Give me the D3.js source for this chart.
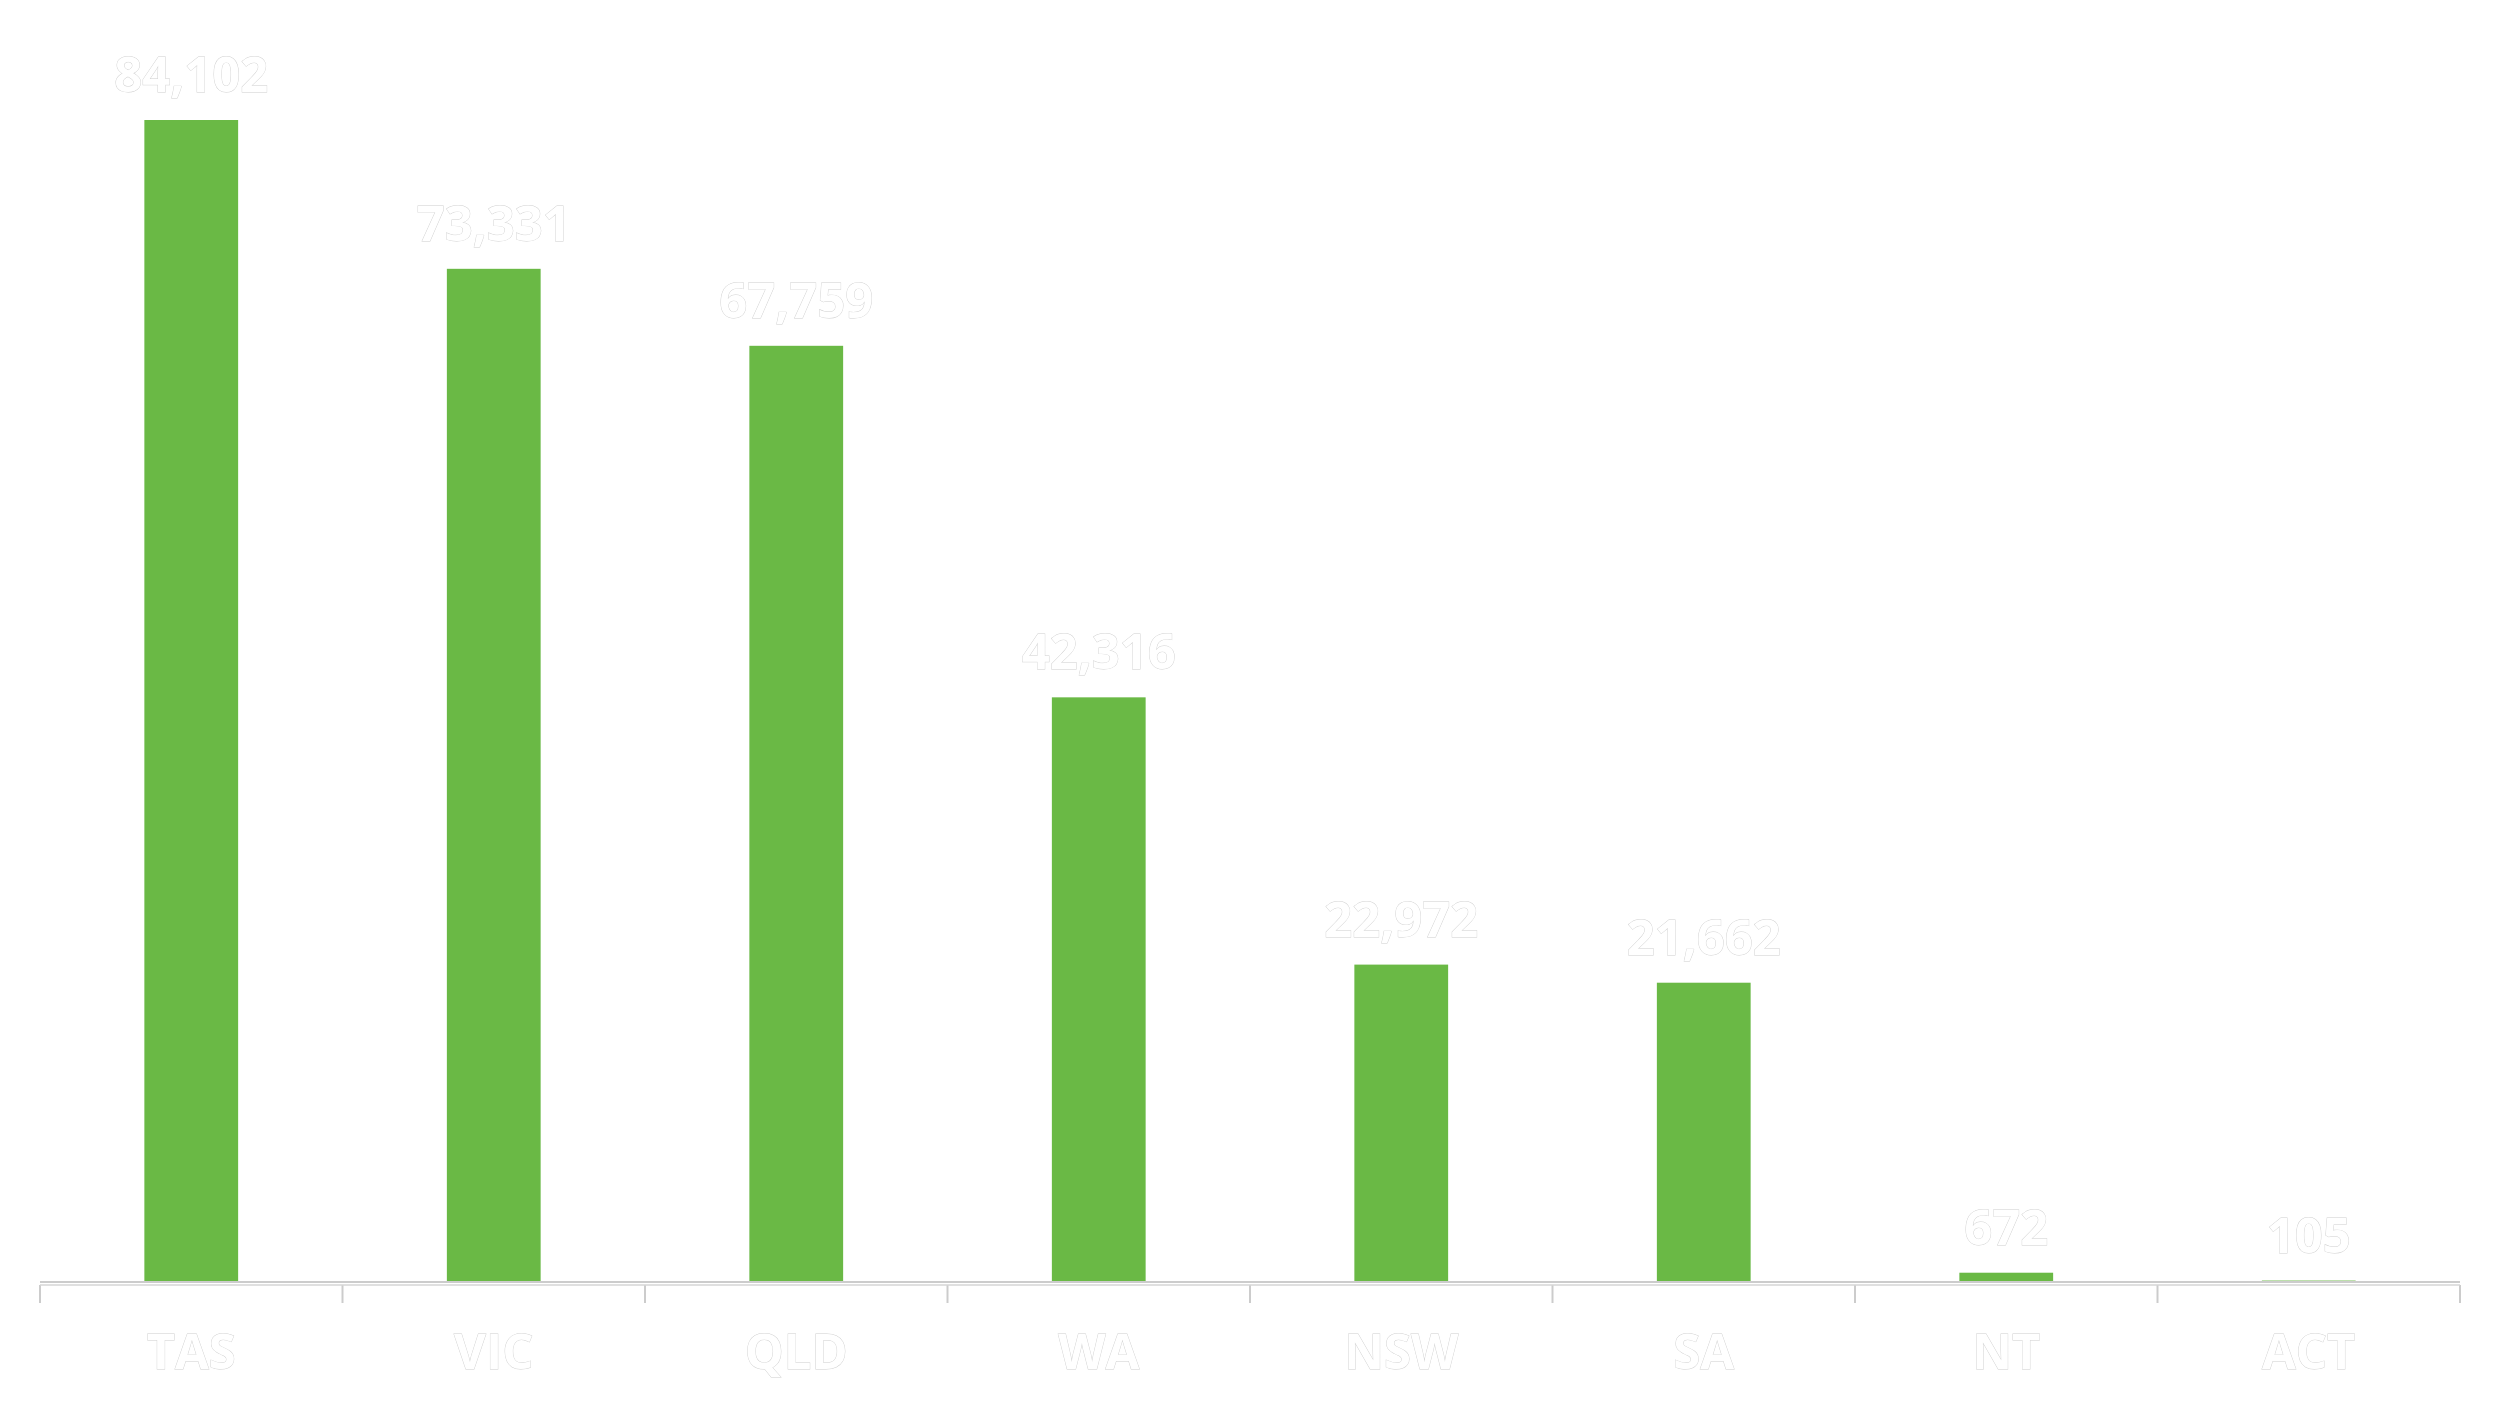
<!DOCTYPE html>
<html>
<head>
  <meta charset="UTF-8">
  <style>
body{
    margin: 0;
    background: #ffffff;
}
.label{
    font-family: "Open Sans", sans-serif;
    font-weight: bold;
    fill: #ffffff;
    stroke: #d0d0d0;
    stroke-width: 0.9px;
    paint-order: stroke;
}
  </style>
</head>
<body>
<svg></svg>

<script src="https://d3js.org/d3.v7.min.js"></script>
<script>

let width = 2500, height = 1408;

// data
let states = ["TAS", "VIC", "QLD", "WA", "NSW", "SA", "NT", "ACT"];
let counts = [84102, 73331, 67759, 42316, 22972, 21662, 672, 105];

let margin = {top: 120, right: 40, bottom: 126, left: 40};

let svg = d3.select("svg")
    .attr("width", width)
    .attr("height", height)
    .attr("viewBox", "0 0 " + width + " " + height)

let x = d3.scaleBand()
    .domain(states)
    .range([margin.left, width - margin.right])
    .padding(0)

let y = d3.scaleLinear()
    .domain([0, d3.max(counts)])
    .range([height - margin.bottom, margin.top])

let barW = x.bandwidth() * 0.31

let rows = states.map((s, i) => ({state: s, value: counts[i]}))

// bars
svg.append("g")
  .selectAll("rect")
  .data(rows)
  .enter()
  .append("rect")
    .attr("x", d => x(d.state) + (x.bandwidth() - barW) / 2)
    .attr("y", d => y(d.value))
    .attr("width", barW)
    .attr("height", d => y(0) - y(d.value))
    .attr("fill", "#6ab945")

// value labels
svg.append("g")
  .selectAll("text")
  .data(rows)
  .enter()
  .append("text")
    .attr("class", "label")
    .attr("x", d => x(d.state) + x.bandwidth() / 2)
    .attr("y", d => y(d.value) - 28)
    .attr("text-anchor", "middle")
    .style("font-size", "49px")
    .text(d => d3.format(",")(d.value))

// baseline
svg.append("line")
    .attr("x1", margin.left)
    .attr("x2", width - margin.right)
    .attr("y1", y(0))
    .attr("y2", y(0))
    .attr("stroke", "#cccccc")
    .attr("stroke-width", 2)

// tick marks at the band edges
let edges = states.map(s => x(s)).concat([x.range()[1]])
let axisY = y(0) + 3

svg.append("g")
  .selectAll("line")
  .data(edges)
  .enter()
  .append("line")
    .attr("x1", d => d)
    .attr("x2", d => d)
    .attr("y1", axisY)
    .attr("y2", axisY + 18)
    .attr("stroke", "#cccccc")
    .attr("stroke-width", 2)

svg.append("line")
    .attr("x1", margin.left)
    .attr("x2", width - margin.right)
    .attr("y1", axisY)
    .attr("y2", axisY)
    .attr("stroke", "#d6d6d6")
    .attr("stroke-width", 1.5)

// category labels
svg.append("g")
  .selectAll("text")
  .data(states)
  .enter()
  .append("text")
    .attr("class", "label")
    .attr("x", d => x(d) + x.bandwidth() / 2)
    .attr("y", axisY + 84)
    .attr("text-anchor", "middle")
    .style("font-size", "49px")
    .text(d => d)

</script>
</body>
</html>
